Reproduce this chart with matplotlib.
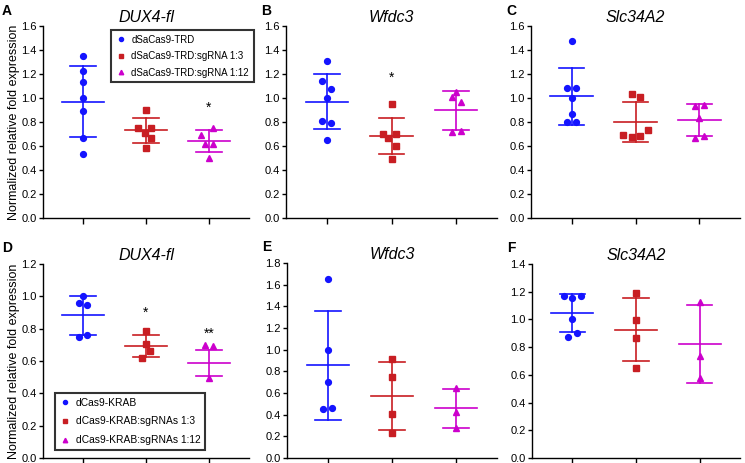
import numpy as np
import matplotlib
matplotlib.use('Agg')
from matplotlib import pyplot as plt

plt.rcParams['font.family'] = ['Liberation Sans', 'DejaVu Sans']

W, H = 745, 463

blue = '#1414ff'
red = '#c81e23'
magenta = '#cc00cc'
colors = [blue, red, magenta]
markers = ['o', 's', '^']

# panel data: per group (y values, x offsets), mean, sd
titles = ['DUX4-fl', 'Wfdc3', 'Slc34A2', 'DUX4-fl', 'Wfdc3', 'Slc34A2']
letters = ['A', 'B', 'C', 'D', 'E', 'F']
ymax = [1.6, 1.6, 1.6, 1.2, 1.8, 1.4]

a_vals = [[1.35, 1.227, 1.133, 0.997, 0.889, 0.670, 0.532],
          [0.90, 0.753, 0.753, 0.706, 0.670, 0.582],
          [0.748, 0.695, 0.62, 0.62, 0.496]]
a_offs = [[0, 0, 0, 0, 0, 0, 0],
          [0, -0.13, 0.08, -0.02, 0.08, 0],
          [0.07, -0.13, -0.07, 0.07, 0]]
a_mean = [0.97, 0.73, 0.642]
a_sd = [0.297, 0.106, 0.095]

b_vals = [[1.305, 1.139, 1.078, 1.003, 0.812, 0.795, 0.648],
          [0.947, 0.698, 0.670, 0.704, 0.601, 0.488],
          [1.047, 1.008, 0.970, 0.717, 0.726]]
b_offs = [[0, -0.07, 0.07, 0, -0.07, 0.07, 0],
          [0, -0.13, -0.06, 0.07, 0.07, 0],
          [0, -0.07, 0.07, -0.07, 0.07]]
b_mean = [0.970, 0.684, 0.897]
b_sd = [0.228, 0.152, 0.16]

c_vals = [[1.476, 1.083, 1.083, 1.003, 0.867, 0.80, 0.80],
          [1.030, 1.008, 0.695, 0.676, 0.684, 0.734],
          [0.930, 0.942, 0.831, 0.665, 0.681]]
c_offs = [[0, -0.07, 0.07, 0, 0, -0.07, 0.07],
          [-0.06, 0.07, -0.2, -0.06, 0.07, 0.2],
          [-0.07, 0.07, 0, -0.07, 0.07]]
c_mean = [1.014, 0.803, 0.817]
c_sd = [0.237, 0.167, 0.133]

d_vals = [[1.0, 0.961, 0.948, 0.748, 0.761],
          [0.784, 0.705, 0.662, 0.621],
          [0.699, 0.691, 0.495]]
d_offs = [[0, -0.07, 0.07, -0.07, 0.07],
          [0, 0, 0.07, -0.07],
          [-0.07, 0.07, 0]]
d_mean = [0.882, 0.691, 0.588]
d_sd = [0.12, 0.068, 0.082]

e_vals = [[1.651, 1.00, 0.704, 0.451, 0.466],
          [0.910, 0.750, 0.404, 0.228],
          [0.642, 0.429, 0.278]]
e_offs = [[0, 0, 0, -0.07, 0.07],
          [0, 0, 0, 0],
          [0, 0, 0]]
e_mean = [0.855, 0.574, 0.457]
e_sd = [0.50, 0.314, 0.181]

f_vals = [[1.171, 1.171, 1.154, 1.003, 0.875, 0.901],
          [1.190, 0.995, 0.863, 0.651],
          [1.125, 0.737, 0.578]]
f_offs = [[-0.13, 0.13, 0, 0, -0.07, 0.07],
          [0, 0, 0, 0],
          [0, 0, 0]]
f_mean = [1.046, 0.925, 0.822]
f_sd = [0.137, 0.227, 0.28]

panels = [(a_vals, a_offs, a_mean, a_sd), (b_vals, b_offs, b_mean, b_sd),
          (c_vals, c_offs, c_mean, c_sd), (d_vals, d_offs, d_mean, d_sd),
          (e_vals, e_offs, e_mean, e_sd), (f_vals, f_offs, f_mean, f_sd)]

# significance stars: (panel, group, y, text)
stars = [(0, 2, 0.92, '*'), (1, 1, 1.17, '*'), (3, 1, 0.90, '*'), (3, 2, 0.77, '**')]

legend_top = ['dSaCas9-TRD', 'dSaCas9-TRD:sgRNA 1:3', 'dSaCas9-TRD:sgRNA 1:12']
legend_bot = ['dCas9-KRAB', 'dCas9-KRAB:sgRNAs 1:3', 'dCas9-KRAB:sgRNAs 1:12']

# axes boxes in pixels: left, right, top, bottom
boxes = [(43, 249, 26, 218), (286, 497, 26, 218), (531, 740, 26, 218),
         (43, 249, 264, 458), (287, 497, 263, 458), (532, 740, 264, 458)]

fig = plt.figure(figsize=(W / 100, H / 100), dpi=100)
axes = []
for i, (l, r, t, b) in enumerate(boxes):
    ax = fig.add_axes([l / W, 1 - b / H, (r - l) / W, (b - t) / H])
    axes.append(ax)
    vals, offs, mean, sd = panels[i]
    handles = []
    for g in range(3):
        c = colors[g]
        x = g + np.array(offs[g])
        h, = ax.plot(x, vals[g], linestyle='none', marker=markers[g], color=c,
                     markersize=4.2 if g != 2 else 4.6, zorder=3)
        handles.append(h)
        ax.plot([g - 0.33, g + 0.33], [mean[g], mean[g]], color=c, lw=1.2, zorder=2)
        ax.plot([g - 0.2, g + 0.2], [mean[g] + sd[g]] * 2, color=c, lw=1.2, zorder=2)
        ax.plot([g - 0.2, g + 0.2], [mean[g] - sd[g]] * 2, color=c, lw=1.2, zorder=2)
        ax.plot([g, g], [mean[g] - sd[g], mean[g] + sd[g]], color=c, lw=1.2, zorder=2)
    ax.set_xlim(-0.635, 2.635)
    ax.set_ylim(0, ymax[i])
    ax.set_yticks(np.arange(0, ymax[i] + 0.01, 0.2))
    ax.set_yticklabels(['%.1f' % v for v in np.arange(0, ymax[i] + 0.01, 0.2)])
    ax.set_xticks([0, 1, 2])
    ax.set_xticklabels([])
    ax.spines['top'].set_visible(False)
    ax.spines['right'].set_visible(False)
    for s in ['left', 'bottom']:
        ax.spines[s].set_linewidth(1.0)
    ax.tick_params(axis='y', labelsize=8, length=3, width=1, pad=1.5)
    ax.tick_params(axis='x', length=4, width=1)
    ax.set_title(titles[i], fontsize=11.5, style='italic', pad=3)
    ax.text(-0.2 if i % 3 == 0 else -0.12, 1.08, letters[i], transform=ax.transAxes,
            fontsize=10, fontweight='bold', ha='left', va='center')
    if i % 3 == 0:
        ax.set_ylabel('Normalized relative fold expression', fontsize=9, labelpad=1)
    if i == 0:
        leg = ax.legend(handles, legend_top, loc='upper left',
                        bbox_to_anchor=((111 - l) / (r - l), (b - 30) / (b - t)),
                        fontsize=7, markerscale=0.7, handletextpad=0.6,
                        borderpad=0.5, labelspacing=0.65, fancybox=False,
                        handlelength=1.0, borderaxespad=0)
        leg.get_frame().set_edgecolor('black')
        leg.get_frame().set_linewidth(1.5)
    if i == 3:
        leg = ax.legend(handles, legend_bot, loc='upper left',
                        bbox_to_anchor=((55 - l) / (r - l), (b - 393) / (b - t)),
                        fontsize=7.4, markerscale=0.7, handletextpad=0.6,
                        borderpad=0.45, labelspacing=0.85, fancybox=False,
                        handlelength=1.0, borderaxespad=0)
        leg.get_frame().set_edgecolor('black')
        leg.get_frame().set_linewidth(1.5)

for p, g, y, s in stars:
    axes[p].text(g, y, s, ha='center', va='center', fontsize=10)

fig.savefig('out.png', dpi=100)
